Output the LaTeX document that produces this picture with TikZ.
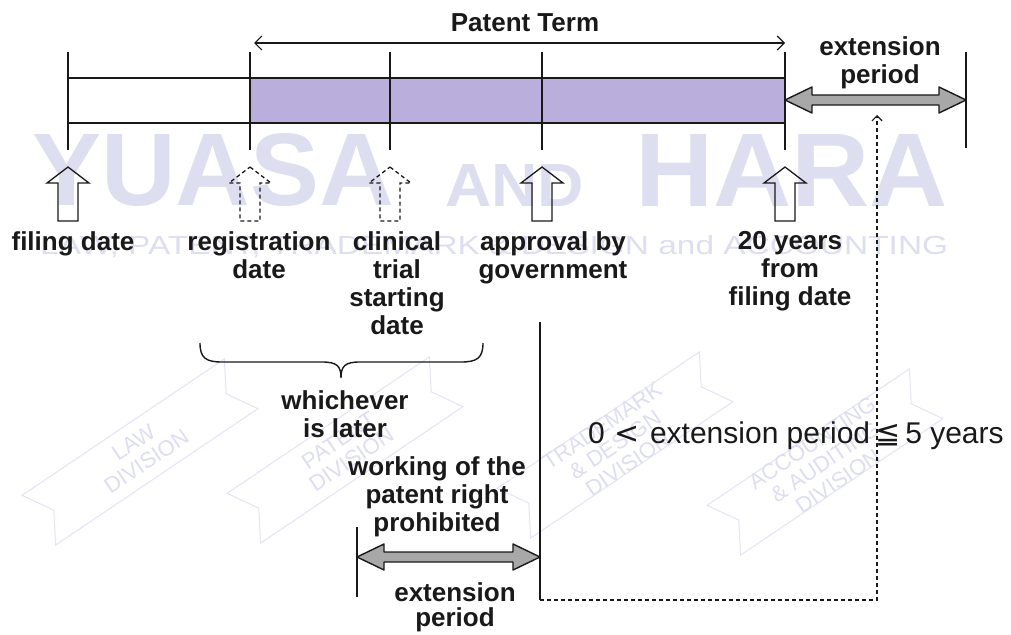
\documentclass[tikz,border=0pt]{standalone}
\usepackage{fontspec}
\setmainfont{Liberation Sans}
\newfontfamily\dejavu{DejaVu Sans}
\usetikzlibrary{arrows.meta}
\definecolor{barfill}{RGB}{185,174,220}
\definecolor{wm}{RGB}{222,222,241}
\definecolor{wmline}{RGB}{228,228,243}
\definecolor{greyarrow}{RGB}{168,168,168}
\definecolor{ink}{RGB}{25,25,25}
\newcommand\dblarrow[3]{%
  \filldraw[#3] (#1) -- ([shift={(27,-13)}]#1) -- ([shift={(27,-5)}]#1) -- ([shift={(-27,-5)}]#2)
   -- ([shift={(-27,-13)}]#2) -- (#2) -- ([shift={(-27,13)}]#2) -- ([shift={(-27,5)}]#2)
   -- ([shift={(27,5)}]#1) -- ([shift={(27,13)}]#1) -- cycle;}
\begin{document}
\begin{tikzpicture}[x=1pt,y=-1pt,
  tickline/.style={draw=ink,line width=1.4pt},
  lbl/.style={font=\fontsize{26}{28}\selectfont\bfseries,align=center,inner sep=0pt,anchor=north,text=ink},
  bigarrow/.style={fill=greyarrow,draw=ink,line width=1.4pt,line join=round},
  uparr/.pic={\draw[pic actions,line width=1.3pt,line join=miter] (0,0) -- (21,16) -- (10,16) -- (10,54) -- (-10,54) -- (-10,16) -- (-21,16) -- cycle;},
  wmtext/.style={inner sep=0pt,text=wm},
  badge/.style={draw=wmline,line width=1pt},
  badgetext/.style={text=wm,font=\fontsize{22}{23}\selectfont,align=center,inner sep=0pt}
]
\useasboundingbox (0,0) rectangle (1011,634);
\fill[white] (0,0) rectangle (1011,634);

% ---------- watermark ----------
\node[wmtext,anchor=south west] (wmY) at (32,207) {\resizebox{362pt}{72pt}{\bfseries YUASA}};
\node[wmtext,anchor=south west] (wmA) at (445,207) {\resizebox{139pt}{42pt}{\bfseries AND}};
\node[wmtext,anchor=south west] (wmH) at (635,207) {\resizebox{313pt}{72pt}{\bfseries HARA}};
\node[wmtext,anchor=south west] (wmS) at (40,258) {\resizebox{908pt}{19pt}{\fontsize{30}{30}\selectfont LAW, PATENT, TRADEMARK \& DESIGN and ACCOUNTING}};
\foreach \cx/\cy/\nm/\txt in {140/452/b1/{LAW\\DIVISION},345/450/b2/{PATENT\\DIVISION},615/445/b3/{TRADEMARK\\\& DESIGN\\DIVISION},825/462/b4/{ACCOUNTING\\\& AUDITING\\DIVISION}}{
  \begin{scope}[shift={(\cx,\cy)},rotate=34]
    \draw[badge] (-122,-30) -- (122,-30) -- (104,0) -- (122,30) -- (-122,30) -- (-104,0) -- cycle;
    \node[badgetext,rotate=34] (\nm) at (0,0) {\txt};
  \end{scope}
}

% ---------- coordinates ----------
\coordinate (t1) at (68,52);  \coordinate (b1) at (68,150);
\coordinate (t2) at (250,52); \coordinate (b2) at (250,150);
\coordinate (t3) at (390,52); \coordinate (b3) at (390,150);
\coordinate (t4) at (542,52); \coordinate (b4) at (542,150);
\coordinate (t5) at (785,52); \coordinate (b5) at (785,150);
\coordinate (t6) at (966,52); \coordinate (b6) at (966,148);

% ---------- bar ----------
\fill[white] (68,78) rectangle (250,123);
\fill[barfill] (250,78) rectangle (785,123);
\draw[ink,line width=1.4pt] (68,78) -- (785,78) (68,123) -- (785,123);
\foreach \i in {1,...,6}{\draw[tickline] (t\i) -- (b\i);}

% ---------- patent term ----------
\coordinate (pL) at (254,43);
\coordinate (pR) at (785,43);
\draw[ink,line width=1.2pt,{Straight Barb[length=7pt,width=14pt]}-{Straight Barb[length=7pt,width=14pt]}] (pL) -- (pR);
\node[lbl] (pt) at (525,13) {Patent Term};

% ---------- upper extension ----------
\coordinate (eL) at (785,100);
\coordinate (eR) at (966,100);
\dblarrow{eL}{eR}{bigarrow}
\node[lbl] (ext1) at (880,36) {extension\\period};

% ---------- block arrows ----------
\pic[draw=ink] (a1) at (68,167) {uparr};
\pic[draw=ink,dashed,dash pattern=on 4pt off 3pt] (a2) at (250,167) {uparr};
\pic[draw=ink,dashed,dash pattern=on 4pt off 3pt] (a3) at (390,167) {uparr};
\pic[draw=ink] (a4) at (542,167) {uparr};
\pic[draw=ink] (a5) at (785,167) {uparr};

% ---------- labels ----------
\node[lbl] (l1) at (73,231) {filing date};
\node[lbl] (l2) at (259,231) {registration\\date};
\node[lbl] (l3) at (397,231) {clinical\\trial\\starting\\date};
\node[lbl] (l4) at (553,231) {approval by\\government};
\node[lbl] (l5) at (790,231) {20 years\\from\\filing date};

% ---------- brace ----------
\draw[ink,line width=1.4pt] (200,343) .. controls (200,358) and (206,362) .. (222,362) -- (322,362)
  .. controls (337,362) and (341,366) .. (341,378) .. controls (341,366) and (345,362) .. (360,362)
  -- (461,362) .. controls (477,362) and (483,358) .. (483,343);
\node[lbl] (wl) at (345,390) {whichever\\is later};
\node[lbl] (wk) at (437,456) {working of the\\patent right\\prohibited};

% ---------- lower part ----------
\coordinate (v1) at (540,322);
\coordinate (v2) at (540,600);
\draw[tickline] (v1) -- (v2);
\coordinate (lt1) at (357,527);
\coordinate (lt2) at (357,597);
\draw[tickline] (lt1) -- (lt2);
\coordinate (lL) at (357,557);
\coordinate (lR) at (540,557);
\dblarrow{lL}{lR}{bigarrow}
\node[lbl,font=\fontsize{26}{25}\selectfont\bfseries] (ext2) at (455,582) {extension\\period};

% ---------- dashed connector ----------
\coordinate (dc) at (877,600);
\coordinate (dt) at (877,115);
\draw[ink,line width=1.2pt,dash pattern=on 4pt off 3pt,-{Straight Barb[length=5pt,width=10pt]}] (v2) -- (dc) -- (dt);

% ---------- condition ----------
\node[anchor=base west,inner sep=0pt,text=ink,font=\fontsize{30}{32}\selectfont] (cond) at (588,443) {0\,\,{\dejavu <}\,\,extension period\,{\dejavu ≦}\,5 years};
\end{tikzpicture}
\end{document}
